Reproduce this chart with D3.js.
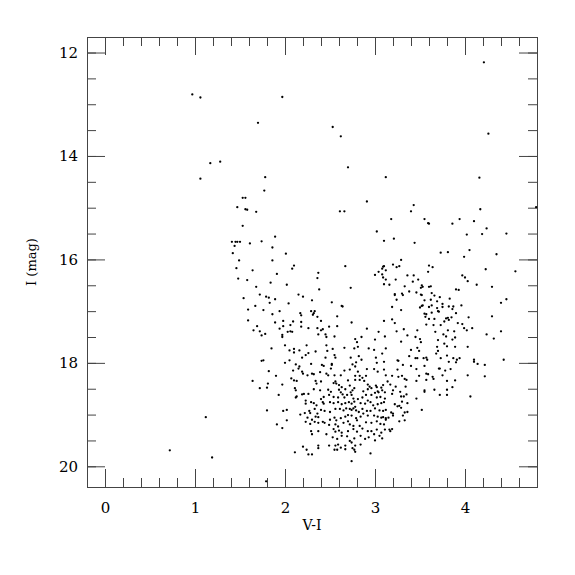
<!DOCTYPE html>
<html>
<head>
<meta charset="utf-8">
<script src="https://cdn.jsdelivr.net/npm/d3@7"></script>
<style>
  body { margin: 0; background: #fff; }
  svg { display: block; }
</style>
</head>
<body>
<div id="plot"></div>
<script>
// colour-magnitude diagram: [V-I, I]
var brightStars = [[0.97,12.81],[1.06,12.87],[1.17,14.14],[1.28,14.11],[1.06,14.44],[1.97,12.86],[1.70,13.36],
  [2.53,13.44],[2.62,13.62],[2.70,14.22],[1.78,14.41],[3.12,14.41],[4.21,12.19],[4.26,13.57],[4.16,14.42],
  [4.79,14.99],[1.12,19.05],[0.72,19.69],[1.19,19.83],[1.79,20.29]];

var blueSequence = [[1.41,15.66],[1.45,15.66],[1.44,15.74],[1.42,15.88],
  [1.77,14.67],[1.53,14.81],[1.56,14.81],[1.47,14.99],[1.56,15.03],[1.58,15.04],[1.68,15.08],[1.53,15.35],
  [1.47,15.66],[1.50,15.66],[1.61,15.69],[1.74,15.65],[1.89,15.56],[1.86,15.77],[2.01,15.89],[1.49,16.02],
  [1.86,16.02],[2.10,16.12],[2.08,16.18],[1.46,16.17],[1.64,16.21],[1.91,16.28],[1.48,16.37],[1.58,16.40],
  [1.84,16.45],[2.02,16.49],[1.68,16.53],[1.72,16.68],[1.79,16.72],[1.82,16.74],[2.15,16.68],[2.20,16.72],
  [1.54,16.75],[1.89,16.77],[1.83,16.84],[2.04,16.85],[1.67,16.90],[1.59,16.97],[1.76,16.98],[1.94,17.00],
  [1.86,17.06],[2.17,17.04],[2.18,17.08],[2.29,17.00],[2.33,17.00],[2.32,17.04],[2.31,17.07],[2.36,17.11],
  [1.59,17.18],[1.89,17.22],[1.98,17.19],[2.09,17.20],[2.18,17.21],[2.40,17.19],[1.69,17.29],[1.98,17.29],
  [2.06,17.27],[2.18,17.30],[1.94,17.34],[2.36,17.33],[2.40,17.37],[2.42,17.35],[1.65,17.37],[1.72,17.39],
  [2.03,17.40],[2.06,17.39],[2.08,17.40],[2.26,17.33],[2.49,17.30],[2.58,17.29],[2.58,17.10],[2.63,16.90],
  [2.64,16.91],[2.30,16.79],[2.52,16.83],[2.38,16.58],[2.36,16.36],[2.37,16.26],[2.67,16.13],[2.73,16.55],
  [2.74,17.22],[2.91,17.34],[3.04,17.40],[3.10,17.19],[2.61,15.07],[2.66,15.07],[2.91,14.88],[3.02,15.46],
  [3.10,15.64],[3.09,16.14],[3.10,16.13],[3.08,16.18],[3.12,16.21],[3.04,16.24],[3.00,16.30],[3.08,16.29],
  [3.09,16.35],[3.12,16.39],[3.10,16.48]];

var redGiants = [[3.43,14.95],[3.40,15.07],[3.18,15.22],[3.55,15.22],[3.59,15.30],[3.60,15.31],[3.86,15.31],
  [3.94,15.22],[4.10,15.26],[4.17,15.03],[4.24,15.40],[4.19,15.51],[4.02,15.52],[4.46,15.50],[3.21,15.60],
  [3.44,15.68],[3.73,15.87],[3.81,15.86],[4.05,15.82],[3.99,15.95],[4.35,15.90],[3.29,16.01],[3.20,16.10],
  [3.24,16.15],[3.27,16.13],[3.60,16.12],[3.64,16.15],[3.59,16.24],[4.23,16.19],[4.56,16.23],[3.36,16.31],
  [3.43,16.31],[3.97,16.31],[4.00,16.35],[4.03,16.42],[3.23,16.39],[3.48,16.39],[3.42,16.43],[3.16,16.49],
  [3.33,16.52],[3.52,16.50],[3.53,16.53],[3.51,16.55],[3.60,16.53],[3.62,16.52],[4.13,16.49],[4.30,16.53],
  [3.90,16.58],[3.93,16.59],[3.38,16.62],[3.46,16.64],[3.63,16.65],[3.22,16.67],[3.22,16.69],[3.30,16.66],
  [3.31,16.69],[3.52,16.69],[3.51,16.68],[3.66,16.70],[3.72,16.73],[3.83,16.76],[3.55,16.79],[3.62,16.78],
  [3.69,16.81],[3.24,16.78],[4.46,16.77],[4.40,16.84],[3.75,16.86],[3.52,16.90],[3.50,16.93],[3.53,16.89],
  [3.19,16.92],[3.60,16.92],[3.63,16.89],[3.69,16.94],[3.75,16.92],[3.82,16.91],[3.87,16.91],[3.86,16.96],
  [3.96,16.89],[3.29,16.98],[3.55,17.05],[3.57,17.06],[3.63,17.03],[3.56,17.11],[3.70,17.00],[3.71,17.01],
  [3.81,17.13],[3.82,17.17],[3.79,17.14],[3.85,17.12],[3.90,17.04],[4.04,17.12],[4.30,17.10],[3.66,17.15],
  [3.19,17.16],[3.57,17.26],[3.60,17.15],[3.77,17.20],[3.92,17.23],[3.97,17.25],[3.99,17.33],[4.02,17.37],
  [4.08,17.33],[3.22,17.23],[3.32,17.35],[3.24,17.39],[3.47,17.37],[3.67,17.40],[3.81,17.37],[3.73,17.27],
  [3.65,17.27],[3.88,17.39],[4.40,17.39],
  [3.29,17.59],[3.36,17.47],[3.45,17.50],[3.50,17.54],[3.51,17.60],[3.70,17.56],[3.76,17.45],[3.79,17.49],
  [3.86,17.55],[3.89,17.51],[3.77,17.63],[3.80,17.68],[4.24,17.45],[4.32,17.53],[3.40,17.75],[3.47,17.71],
  [3.49,17.77],[3.69,17.69],[3.70,17.77],[3.68,17.82],[3.80,17.86],[3.89,17.69],[4.03,17.69],[3.38,17.87],
  [3.45,17.91],[3.47,17.91],[3.54,17.91],[3.57,17.90],[3.58,17.94],[3.73,17.91],[3.82,17.98],[3.87,17.91],
  [3.90,17.99],[3.91,17.94],[3.94,17.91],[4.10,17.94],[4.10,17.98],[4.14,18.02],[4.22,18.04],[4.43,17.94],
  [3.25,17.95],[3.26,17.96],[3.31,18.04],[3.40,18.06],[3.46,18.12],[3.55,18.06],[3.71,18.11],[3.72,18.11],
  [3.78,18.15],[3.84,18.12],[3.25,18.13],[3.30,18.25],[3.19,18.25],[3.26,18.27],[3.33,18.31],[3.35,18.33],
  [3.46,18.35],[3.57,18.21],[3.59,18.22],[3.49,18.25],[3.64,18.27],[3.65,18.31],[3.57,18.33],[3.80,18.35],
  [3.89,18.34],[4.03,18.24],[4.22,18.26],[3.75,18.24],[3.14,18.36],[3.17,18.42],[3.23,18.46],[3.34,18.46],
  [3.55,18.53],[3.55,18.56],[3.66,18.52],[3.80,18.52],[3.86,18.47],[3.20,18.53],[3.19,18.60],[3.28,18.56],
  [3.35,18.61],[3.29,18.65],[3.32,18.65],[3.46,18.69],[3.72,18.62],[3.80,18.62],[4.06,18.65],[3.30,18.75],
  [3.36,18.78],[3.22,18.80],[3.25,18.84],[3.27,18.83],[3.29,18.87],[3.52,18.91],[3.36,18.95],[3.33,18.96],
  [3.18,18.96],[3.20,18.98],[3.20,19.02],[3.15,19.06],[3.31,19.02],[3.27,19.13],[3.33,19.11],[3.16,19.29],
  [3.19,19.28],[3.17,19.32]];

var faintClump = [[1.74,17.47],[1.78,17.44],[1.97,17.46],[1.97,17.50],[2.37,17.45],[2.45,17.45],[2.46,17.50],
  [2.55,17.49],[2.78,17.54],[2.80,17.60],[2.85,17.50],[3.00,17.55],[3.11,17.49],[1.85,17.72],[2.00,17.66],
  [2.05,17.76],[2.10,17.73],[2.10,17.80],[2.16,17.76],[2.24,17.66],[2.34,17.78],[2.46,17.66],[2.47,17.77],
  [2.53,17.73],[2.55,17.85],[2.56,17.90],[2.45,17.90],[2.66,17.71],[2.73,17.90],[2.77,17.72],[2.81,17.69],
  [2.82,17.87],[2.93,17.72],[2.99,17.75],[3.01,17.90],[3.08,17.82],[3.12,17.72],[1.74,17.96],[1.76,17.95],
  [2.00,18.00],[2.05,17.95],[2.12,18.03],[2.16,18.07],[2.19,17.90],[2.23,17.85],[2.26,17.81],[2.29,18.02],
  [2.41,18.04],[2.43,18.06],[2.52,18.04],[2.52,18.02],[2.75,18.03],[2.78,18.07],[2.79,17.99],[2.85,17.94],
  [2.91,18.12],[3.02,18.00],[3.10,17.98],[1.82,18.16],[2.09,18.15],[2.15,18.11],[2.20,18.21],[2.25,18.24],
  [2.19,18.17],[2.30,18.21],[2.32,18.22],[2.39,18.18],[2.46,18.21],[2.51,18.11],[2.55,18.24],[2.48,18.24],
  [2.62,18.24],[2.66,18.15],[2.72,18.13],[2.78,18.25],[2.81,18.17],[2.83,18.25],[2.86,18.29],[2.90,18.25],
  [2.99,18.12],[3.03,18.17],[3.10,18.13],[3.12,18.24],[1.90,18.25],[2.07,18.30],[2.10,18.34],[2.13,18.35],
  [2.34,18.35],[2.35,18.40],[2.40,18.36],[2.56,18.36],[2.54,18.39],[2.57,18.40],[2.60,18.43],[2.63,18.47],
  [2.70,18.34],[2.78,18.33],[2.72,18.44],[2.83,18.33],[2.88,18.35],[2.92,18.42],[2.94,18.46],[2.96,18.49],
  [3.01,18.44],[3.02,18.47],[3.07,18.48],[3.03,18.55],[3.09,18.43],[3.11,18.57],[1.64,18.35],[1.81,18.40],
  [1.80,18.48],[1.72,18.49],[1.97,18.42],[2.11,18.49],[2.12,18.53],[2.21,18.60],[2.19,18.61],[2.26,18.60],
  [2.32,18.51],[2.39,18.53],[2.48,18.52],[2.51,18.56],[2.60,18.52],[2.62,18.57],[2.67,18.51],[2.74,18.62],
  [2.73,18.57],[2.75,18.53],[2.77,18.49],[2.87,18.55],[2.92,18.51],[2.96,18.62],[3.00,18.58],[3.04,18.57],
  [3.08,18.53],[1.93,18.62],[2.12,18.67],[2.13,18.65],[2.40,18.70],[2.43,18.66],[2.49,18.62],[2.54,18.66],
  [2.59,18.67],[2.64,18.61],[2.69,18.62],[2.66,18.67],[2.76,18.69],[2.81,18.70],[2.86,18.67],[2.90,18.62],
  [2.92,18.73],[3.02,18.67],[3.06,18.66],[3.11,18.69],[2.23,18.73],[2.23,18.79],[2.29,18.76],[2.32,18.78],
  [2.35,18.82],[2.42,18.76],[2.43,18.79],[2.50,18.76],[2.54,18.78],[2.59,18.76],[2.63,18.80],[2.67,18.78],
  [2.71,18.76],[2.74,18.79],[2.77,18.75],[2.78,18.85],[2.84,18.78],[2.89,18.79],[2.95,18.76],[2.98,18.82],
  [3.03,18.80],[3.07,18.78],[3.10,18.76],[1.98,18.93],[2.02,18.91],[2.17,19.00],[2.22,18.97],[2.27,18.93],
  [2.28,18.97],[2.33,18.89],[2.36,18.98],[2.40,18.91],[2.44,18.93],[2.50,18.95],[2.56,18.89],[2.61,18.89],
  [2.65,18.92],[2.68,18.88],[2.72,18.89],[2.74,18.91],[2.76,18.88],[2.79,18.92],[2.82,18.95],[2.86,18.89],
  [2.91,18.93],[2.95,18.93],[3.00,18.88],[3.05,18.92],[3.09,18.93],[3.12,18.91],[3.12,19.07],[1.80,18.92],
  [2.25,19.06],[2.30,19.10],[2.34,19.04],[2.37,19.05],[2.42,19.14],[2.50,19.10],[2.55,19.06],[2.57,19.11],
  [2.62,19.07],[2.67,19.04],[2.70,19.01],[2.74,19.02],[2.79,19.07],[2.84,19.04],[2.87,18.98],[2.92,19.02],
  [2.99,19.02],[3.03,19.04],[3.07,19.06],[3.09,19.05],[3.12,19.10],[1.91,19.19],[1.97,19.26],[2.02,19.11],
  [2.23,19.14],[2.28,19.18],[2.33,19.14],[2.37,19.16],[2.44,19.16],[2.49,19.20],[2.56,19.19],[2.59,19.23],
  [2.65,19.16],[2.70,19.13],[2.72,19.19],[2.76,19.22],[2.80,19.11],[2.83,19.22],[2.90,19.15],[2.96,19.16],
  [3.02,19.13],[3.06,19.18],[3.10,19.19],[2.29,19.32],[2.30,19.38],[2.37,19.32],[2.46,19.38],[2.54,19.28],
  [2.56,19.33],[2.60,19.31],[2.63,19.35],[2.70,19.32],[2.76,19.28],[2.80,19.33],[2.86,19.27],[2.92,19.32],
  [2.96,19.32],[3.02,19.29],[3.07,19.35],[3.11,19.29],[2.53,19.44],[2.58,19.47],[2.63,19.41],[2.69,19.42],
  [2.72,19.51],[2.77,19.46],[2.84,19.41],[2.89,19.47],[2.93,19.44],[2.99,19.38],[3.00,19.50],[3.05,19.41],
  [3.08,19.46],[2.59,19.58],[2.56,19.60],[2.62,19.64],[2.67,19.60],[2.74,19.54],[2.78,19.60],[2.84,19.58],
  [2.20,19.62],[2.24,19.68],[2.26,19.77],[2.37,19.60],[2.37,19.65],[2.49,19.60],[2.55,19.68],[2.58,19.68],
  [2.67,19.67],[2.75,19.65],[2.77,19.68],[2.78,19.72],[2.95,19.75],[2.30,19.77],[2.11,19.73],[2.74,19.90]];

var xMajor = [0, 1, 2, 3, 4];
var yMajor = [12, 14, 16, 18, 20];

var width = 575, height = 575;
var plotLeft = 87, plotTop = 37, plotSize = 450;

var svg = d3.select('#plot').append('svg')
  .attr('width', width)
  .attr('height', height);

var x = d3.scaleLinear().domain([-0.2, 4.8]).range([plotLeft, plotLeft + plotSize]);
var y = d3.scaleLinear().domain([11.7, 20.4]).range([plotTop, plotTop + plotSize]);

var xMinor = d3.range(-0.2, 4.81, 0.2).map(function(d) { return +d.toFixed(1); });
var yMinor = d3.range(12, 20.01, 0.5);

var tickColor = '#444';
var serif = '"DejaVu Serif", "Liberation Serif", serif';

function styleAxis(g) {
  g.select('.domain').remove();
  g.selectAll('line').attr('stroke', tickColor);
  g.attr('font-family', serif).attr('font-size', 15).attr('fill', '#000');
}

// minor ticks on all four sides
svg.append('g').attr('transform', 'translate(0,' + (plotTop + plotSize) + ')')
  .call(d3.axisBottom(x).tickValues(xMinor).tickSize(-9).tickFormat('')).call(styleAxis);
svg.append('g').attr('transform', 'translate(0,' + plotTop + ')')
  .call(d3.axisTop(x).tickValues(xMinor).tickSize(-9).tickFormat('')).call(styleAxis);
svg.append('g').attr('transform', 'translate(' + plotLeft + ',0)')
  .call(d3.axisLeft(y).tickValues(yMinor).tickSize(-9).tickFormat('')).call(styleAxis);
svg.append('g').attr('transform', 'translate(' + (plotLeft + plotSize) + ',0)')
  .call(d3.axisRight(y).tickValues(yMinor).tickSize(-9).tickFormat('')).call(styleAxis);

// major ticks, labels on bottom and left only
svg.append('g').attr('transform', 'translate(0,' + (plotTop + plotSize) + ')')
  .call(d3.axisBottom(x).tickValues(xMajor).tickSize(-18).tickPadding(15).tickFormat(d3.format('d')))
  .call(styleAxis);
svg.append('g').attr('transform', 'translate(0,' + plotTop + ')')
  .call(d3.axisTop(x).tickValues(xMajor).tickSize(-18).tickFormat('')).call(styleAxis);
svg.append('g').attr('transform', 'translate(' + plotLeft + ',0)')
  .call(d3.axisLeft(y).tickValues(yMajor).tickSize(-18).tickPadding(9).tickFormat(d3.format('d')))
  .call(styleAxis);
svg.append('g').attr('transform', 'translate(' + (plotLeft + plotSize) + ',0)')
  .call(d3.axisRight(y).tickValues(yMajor).tickSize(-18).tickFormat('')).call(styleAxis);

// frame
svg.append('rect')
  .attr('x', plotLeft + 0.5).attr('y', plotTop + 0.5)
  .attr('width', plotSize).attr('height', plotSize)
  .attr('fill', 'none').attr('stroke', tickColor).attr('stroke-width', 1);

// stars
var groups = [brightStars, blueSequence, redGiants, faintClump];
groups.forEach(function(data) {
  svg.append('g').selectAll('circle')
    .data(data)
    .enter().append('circle')
    .attr('cx', function(d) { return x(d[0]); })
    .attr('cy', function(d) { return y(d[1]); })
    .attr('r', 1.15)
    .attr('fill', '#000');
});

// axis titles
svg.append('text')
  .attr('x', plotLeft + plotSize / 2).attr('y', 530)
  .attr('text-anchor', 'middle')
  .attr('font-family', serif).attr('font-size', 14)
  .text('V-I');

svg.append('text')
  .attr('transform', 'translate(36,' + (plotTop + plotSize / 2) + ') rotate(-90)')
  .attr('text-anchor', 'middle')
  .attr('font-family', serif).attr('font-size', 13)
  .text('I (mag)');
</script>
</body>
</html>
